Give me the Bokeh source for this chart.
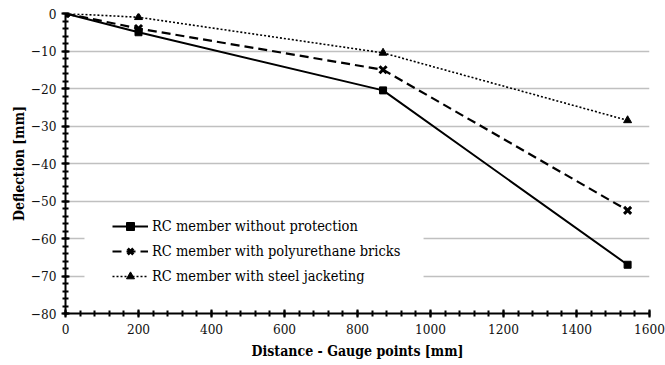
from bokeh.plotting import figure
from bokeh.models import Range1d, LegendItem, Legend, SingleIntervalTicker, BoxAnnotation
from bokeh.embed import file_html
from bokeh.resources import INLINE

distance = [0, 200, 870, 1540]
no_protection = [0, -5, -20.5, -67]
polyurethane = [0, -4, -15, -52.5]
steel_jacket = [0, -1, -10.5, -28.5]
labels = ["RC member without protection",
          "RC member with polyurethane bricks",
          "RC member with steel jacketing"]

FONT = "DejaVu Serif Condensed"

p = figure(width=665, height=365, output_backend="svg", toolbar_location=None,
           x_range=Range1d(0, 1600), y_range=Range1d(-80, 0),
           min_border_left=65, min_border_right=16, min_border_top=13, min_border_bottom=52)
p.outline_line_color = None
p.background_fill_color = "white"
p.border_fill_color = "white"

p.xgrid.visible = False
p.ygrid.grid_line_color = "#c0c0c0"
p.ygrid.grid_line_width = 1.5

for ax in (p.xaxis[0], p.yaxis[0]):
    ax.axis_line_width = 2
    ax.axis_line_color = "black"
    ax.major_tick_in = 4
    ax.major_tick_out = 4
    ax.minor_tick_in = 3
    ax.minor_tick_out = 3
    ax.major_tick_line_width = 2
    ax.minor_tick_line_width = 2
    ax.major_tick_line_color = "black"
    ax.minor_tick_line_color = "black"
    ax.major_label_text_font = FONT
    ax.major_label_text_font_size = "13.5px"
    ax.major_label_text_color = "#111111"
    ax.axis_label_text_font = FONT
    ax.axis_label_text_font_style = "bold"
    ax.axis_label_text_font_size = "14px"
    ax.axis_label_text_color = "black"

p.xaxis.ticker = SingleIntervalTicker(interval=200, num_minor_ticks=5)
p.yaxis.ticker = SingleIntervalTicker(interval=10, num_minor_ticks=5)
p.xaxis.axis_label = "Distance - Gauge points [mm]"
p.yaxis.axis_label = "Deflection [mm]"
p.xaxis.major_label_standoff = 6
p.yaxis.major_label_standoff = 5
p.xaxis.axis_label_standoff = 6
p.yaxis.axis_label_standoff = 1

r1 = p.line(distance, no_protection, line_color="black", line_width=2)
s1 = p.scatter(distance, no_protection, marker="square", size=7, color="black")
r2 = p.line(distance, polyurethane, line_color="black", line_width=2.2, line_dash="9 5")
s2 = p.scatter(distance, polyurethane, marker="x", size=10, line_color="black", line_width=3)
r3 = p.line(distance, steel_jacket, line_color="black", line_width=1.6, line_dash="2 2")
s3 = p.scatter(distance, steel_jacket, marker="triangle", size=8, color="black")

p.add_layout(BoxAnnotation(left=52, right=981, top=-51.7, bottom=-74.4,
                           fill_color="white", fill_alpha=1, line_color=None, level="underlay"))

legend = Legend(items=[LegendItem(label=labels[0], renderers=[r1, s1]),
                       LegendItem(label=labels[1], renderers=[r2, s2]),
                       LegendItem(label=labels[2], renderers=[r3, s3])],
                location=(47, 25), padding=0, margin=0, spacing=0,
                label_height=25, glyph_height=20, glyph_width=36, label_standoff=4,
                border_line_alpha=0, background_fill_alpha=0,
                label_text_font=FONT, label_text_font_size="14.5px", label_text_color="black")
p.add_layout(legend)

open("out.html", "w").write(file_html(p, INLINE))
